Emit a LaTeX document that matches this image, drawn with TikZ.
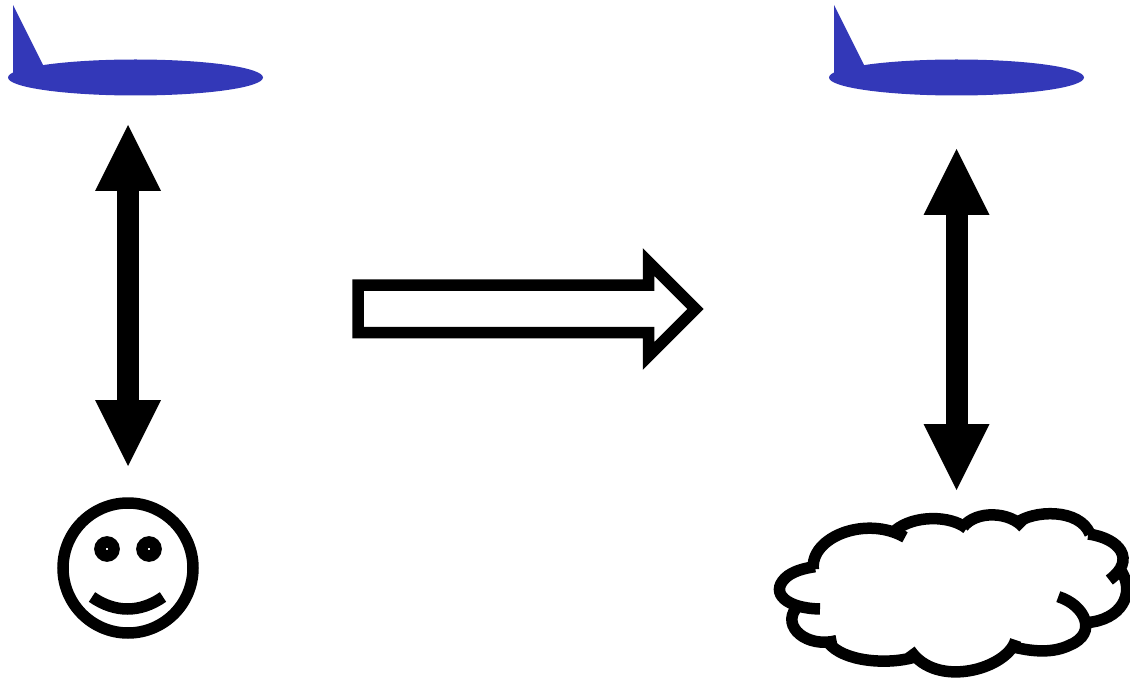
\documentclass[tikz,border=0pt]{standalone}
\usetikzlibrary{arrows.meta}
\definecolor{planeblue}{RGB}{51,56,184}
\tikzset{
  planebody/.style={fill=planeblue,draw=none},
  biarrow/.style={line width=22pt,{Triangle[width=66pt,length=66pt,line width=0pt]}-{Triangle[width=66pt,length=66pt,line width=0pt]}},
  thick outline/.style={line width=11.5pt,draw=black,miter limit=10},
  lobe/.style={line width=11.5pt,draw=black,line cap=butt},
}
\newcommand{\planeshape}[1]{%
  \begin{scope}[shift={(#1,0)}]
    \fill[planebody] (135.5,77.5) ellipse [x radius=127.5,y radius=18];
    \fill[planebody] (13,5) -- (13,74) -- (60,74) -- (43,65) -- cycle;
  \end{scope}}
\begin{document}
\begin{tikzpicture}[x=1pt,y=-1pt]
\useasboundingbox (0,0) rectangle (1130,679);
% aeroplanes
\planeshape{0}
\planeshape{821}
% vertical double arrows
\coordinate (leftTop) at (128,125);
\coordinate (leftBottom) at (128,466);
\coordinate (rightTop) at (956.5,149);
\coordinate (rightBottom) at (956.5,490);
\draw[biarrow] (leftTop) -- (leftBottom);
\draw[biarrow] (rightTop) -- (rightBottom);
% hollow arrow
\draw[thick outline,line join=miter] (358,285) -- (648.5,285) -- (648.5,262) -- (695.5,309) -- (648.5,356) -- (648.5,332.5) -- (358,332.5) -- cycle;
% smiley
\draw[thick outline] (128,568) circle [radius=65];
\draw[thick outline] (107,549) circle [radius=7];
\draw[thick outline] (149,549) circle [radius=7];
\draw[lobe] (92,597) .. controls (115,613) and (140,613) .. (163,597);
% cloud
\begin{scope}[shift={(770,500)},x=0.3333pt,y=-0.3333pt]
\draw[lobe] (130,208) .. controls (120,110) and (290,45) .. (405,112);
\draw[lobe] (375,92) .. controls (430,45) and (540,45) .. (590,85);
\draw[lobe] (580,80) .. controls (620,30) and (720,35) .. (760,82);
\draw[lobe] (735,72) .. controls (790,28) and (930,25) .. (960,102);
\draw[lobe] (955,102) .. controls (1050,115) and (1100,180) .. (1018,240);
\draw[lobe] (1055,215) .. controls (1095,280) and (1055,360) .. (950,368);
\draw[lobe] (865,290) .. controls (945,315) and (985,400) .. (900,435) .. controls (850,460) and (790,455) .. (735,442);
\draw[lobe] (737,420) .. controls (715,505) and (500,570) .. (420,450);
\draw[lobe] (432,472) .. controls (350,495) and (220,485) .. (175,428);
\draw[lobe] (200,422) .. controls (110,445) and (35,380) .. (78,325);
\draw[lobe] (150,327) .. controls (50,325) and (0,280) .. (45,235) .. controls (65,215) and (100,205) .. (135,200);
\end{scope}
\end{tikzpicture}
\end{document}
